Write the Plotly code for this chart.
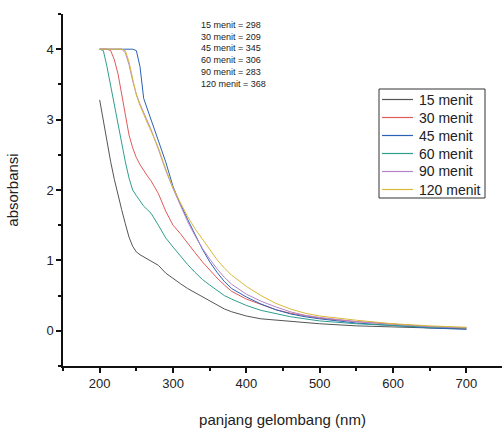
import plotly.graph_objects as go

wavelength = [200, 205, 210, 215, 220, 225, 230, 235, 240, 245, 250, 255, 260, 265, 270,
              280, 290, 300, 310, 320, 330, 340, 350, 360, 370, 380, 400, 420, 440, 460,
              480, 500, 550, 600, 650, 700]

abs_15 = [3.28, 2.98, 2.68, 2.40, 2.15, 1.92, 1.72, 1.52, 1.33, 1.20, 1.12, 1.08, 1.05, 1.02, 1.00,
          0.93, 0.82, 0.74, 0.67, 0.60, 0.54, 0.48, 0.42, 0.36, 0.31, 0.27, 0.21, 0.17, 0.15, 0.13,
          0.12, 0.10, 0.07, 0.05, 0.04, 0.03]
abs_30 = [4.0, 4.0, 4.0, 3.98, 3.85, 3.65, 3.35, 3.05, 2.78, 2.60, 2.46, 2.36, 2.27, 2.20, 2.13,
          1.95, 1.70, 1.50, 1.38, 1.24, 1.11, 0.98, 0.86, 0.75, 0.65, 0.56, 0.45, 0.37, 0.30, 0.25,
          0.21, 0.18, 0.13, 0.09, 0.06, 0.04]
abs_45 = [4.0, 4.0, 4.0, 4.0, 4.0, 4.0, 4.0, 4.0, 4.0, 4.0, 3.98, 3.75, 3.30, 3.15, 2.98,
          2.70, 2.40, 2.05, 1.80, 1.58, 1.36, 1.16, 0.98, 0.83, 0.70, 0.60, 0.48, 0.38, 0.30, 0.24,
          0.20, 0.17, 0.11, 0.07, 0.04, 0.02]
abs_60 = [4.0, 3.98, 3.75, 3.48, 3.22, 2.95, 2.65, 2.40, 2.17, 2.00, 1.92, 1.84, 1.77, 1.72, 1.67,
          1.50, 1.32, 1.19, 1.06, 0.94, 0.83, 0.73, 0.65, 0.57, 0.50, 0.45, 0.36, 0.29, 0.24, 0.20,
          0.17, 0.14, 0.10, 0.07, 0.05, 0.04]
abs_90 = [4.0, 4.0, 4.0, 4.0, 4.0, 4.0, 4.0, 3.95, 3.78, 3.55, 3.36, 3.22, 3.10, 2.98, 2.86,
          2.58, 2.28, 2.02, 1.78, 1.55, 1.35, 1.17, 1.02, 0.88, 0.76, 0.66, 0.52, 0.42, 0.34, 0.27,
          0.22, 0.19, 0.13, 0.09, 0.06, 0.04]
abs_120 = [4.0, 4.0, 4.0, 4.0, 4.0, 4.0, 4.0, 3.98, 3.82, 3.58, 3.35, 3.20, 3.06, 2.95, 2.84,
           2.60, 2.30, 2.03, 1.82, 1.62, 1.45, 1.30, 1.15, 1.01, 0.89, 0.79, 0.63, 0.50, 0.39, 0.31,
           0.25, 0.21, 0.15, 0.10, 0.07, 0.05]

series_names = ["15 menit", "30 menit", "45 menit", "60 menit", "90 menit", "120 menit"]
series_values = [abs_15, abs_30, abs_45, abs_60, abs_90, abs_120]
series_colors = ["#555555", "#e05a5a", "#2a62b8", "#2f9e8c", "#b585c8", "#d9b93a"]

note_lines = ["15 menit = 298", "30 menit = 209", "45 menit = 345",
              "60 menit = 306", "90 menit = 283", "120 menit = 368"]

FONT = "Liberation Sans, Arial, sans-serif"

W, H = 502, 431
ML, MR, MT, MB = 63, 0, 14, 65
PW, PH = W - ML - MR, H - MT - MB


def px(xp):
    return (xp - ML) / PW


def py(yp):
    return (H - MB - yp) / PH


fig = go.Figure()
for name, vals, col in zip(series_names, series_values, series_colors):
    fig.add_trace(go.Scatter(x=wavelength, y=vals, mode="lines", name=name,
                             line=dict(color=col, width=1), showlegend=False))

fig.add_annotation(x=336, y=4.45, xref="x", yref="y", xanchor="left", yanchor="top",
                   text="<br>".join(note_lines), showarrow=False, align="left",
                   font=dict(family=FONT, size=9, color="#222"))

# legend box (drawn in paper coordinates)
fig.add_shape(type="rect", xref="paper", yref="paper",
              x0=px(379), x1=px(485), y0=py(198), y1=py(89),
              line=dict(color="#333", width=1), fillcolor="white", layer="above")
row0, row_step = 99.5, 18.0
for i, (name, col) in enumerate(zip(series_names, series_colors)):
    yy = py(row0 + i * row_step)
    fig.add_shape(type="line", xref="paper", yref="paper",
                  x0=px(382), x1=px(413), y0=yy, y1=yy,
                  line=dict(color=col, width=1.2), layer="above")
    fig.add_annotation(x=px(417), y=yy, xref="paper", yref="paper",
                       xanchor="left", yanchor="middle", text=name, showarrow=False,
                       font=dict(family=FONT, size=14, color="#222"))

axis_common = dict(showline=True, linecolor="#111", linewidth=1.5, ticks="outside",
                   ticklen=5, tickwidth=1.5, tickcolor="#111", showgrid=False, zeroline=False,
                   tickfont=dict(family=FONT, size=13, color="#222"),
                   mirror=False)

fig.update_layout(
    width=W, height=H,
    margin=dict(l=ML, r=MR, t=MT, b=MB),
    plot_bgcolor="white", paper_bgcolor="white",
    font=dict(family=FONT, color="#222"),
    xaxis=dict(range=[150, 748.5], tick0=200, dtick=100,
               minor=dict(ticks="outside", ticklen=3, tickwidth=1.5, tickcolor="#111", dtick=50, tick0=150),
               title=dict(text="panjang gelombang (nm)", font=dict(family=FONT, size=15, color="#222"), standoff=24),
               **axis_common),
    yaxis=dict(range=[-0.5, 4.5], tick0=0, dtick=1,
               minor=dict(ticks="outside", ticklen=3, tickwidth=1.5, tickcolor="#111", dtick=0.5, tick0=-0.5),
               title=dict(text="absorbansi", font=dict(family=FONT, size=15, color="#222"), standoff=24),
               **axis_common),
    showlegend=False,
)

fig.write_html("out.html", config={"displayModeBar": False},
               post_script="document.body.style.margin='0';document.body.style.padding='0';")
